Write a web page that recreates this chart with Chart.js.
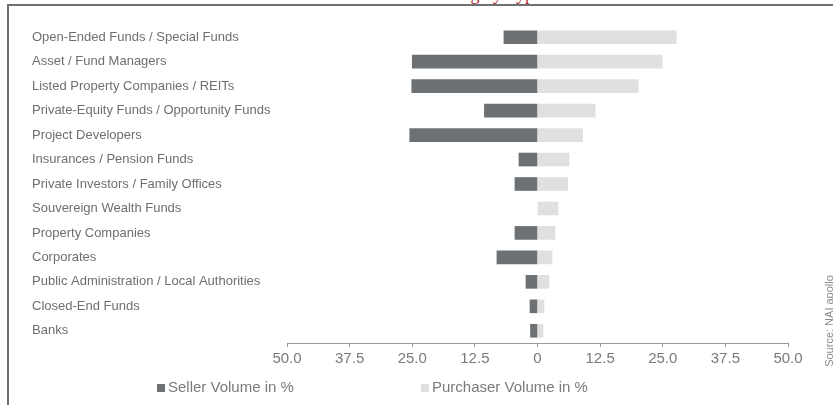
<!DOCTYPE html>
<html>
<head>
<meta charset="utf-8">
<script src="https://cdn.jsdelivr.net/npm/chart.js@4.4.1/dist/chart.umd.min.js"></script>
<style>
  html, body { margin: 0; padding: 0; background: #fff; }
  body { width: 833px; height: 405px; position: relative; overflow: hidden; font-family: 'Liberation Sans', Arial, sans-serif; }
  #chart-box { position: absolute; left: 0; top: 0; width: 833px; height: 405px; }
  #frame { position: absolute; left: 7px; top: 4px; right: 0; bottom: 0; border-top: 2px solid #6e7174; border-left: 2px solid #6e7174; }
  #title { position: absolute; left: 300px; width: 300px; top: -15px; text-align: center; font: 18px/18px 'Liberation Serif', serif; color: #b0282e; white-space: nowrap; }
  .legend-item { position: absolute; top: 378px; font-size: 15px; color: #7a7a7a; line-height: 18px; white-space: nowrap; }
  .legend-item i { display: inline-block; width: 8px; height: 8px; margin-right: 3px; vertical-align: 0px; }
  #source { position: absolute; left: 829px; top: 321px; transform: translate(-50%, -50%) rotate(-90deg); font-size: 11px; color: #8a8a8a; white-space: nowrap; }
</style>
</head>
<body>
<div id="title">Investors Selling by Type</div>
<div id="chart-box"><canvas id="volume-chart" width="833" height="405"></canvas></div>
<div id="frame"></div>
<div class="legend-item" style="left:157px"><i style="background:#6d7174"></i>Seller Volume in %</div>
<div class="legend-item" style="left:421px"><i style="background:#e0e0e0"></i>Purchaser Volume in %</div>
<div id="source">Source: NAI apollo</div>
<script>
// Investor groups, top to bottom
const investorGroups = [
    "Open-Ended Funds / Special Funds",
    "Asset / Fund Managers",
    "Listed Property Companies / REITs",
    "Private-Equity Funds / Opportunity Funds",
    "Project Developers",
    "Insurances / Pension Funds",
    "Private Investors / Family Offices",
    "Souvereign Wealth Funds",
    "Property Companies",
    "Corporates",
    "Public Administration / Local Authorities",
    "Closed-End Funds",
    "Banks",
];

// Share of volume in %; sellers are drawn to the left of zero
const sellerVolume = [6.7, 25.0, 25.1, 10.6, 25.5, 3.7, 4.5, 0, 4.5, 8.1, 2.3, 1.5, 1.4];
const purchaserVolume = [27.7, 24.9, 20.1, 11.5, 9.0, 6.3, 6.0, 4.1, 3.5, 2.9, 2.3, 1.3, 1.1];

const axisTicks = [-50, -37.5, -25, -12.5, 0, 12.5, 25, 37.5, 50];

Chart.defaults.font.family = "'Liberation Sans', Arial, sans-serif";
Chart.defaults.color = "#707070";

const ctx = document.getElementById("volume-chart").getContext("2d");
const volumeChart = new Chart(ctx, {
    type: "bar",
    data: {
        labels: investorGroups,
        datasets: [
            {
                label: "Seller Volume in %",
                // zero shares get no bar at all (avoids a hairline at 0)
                data: sellerVolume.map(v => (v === 0 ? null : -v)),
                backgroundColor: "#6d7174",
                barThickness: 13,
            },
            {
                label: "Purchaser Volume in %",
                data: purchaserVolume,
                backgroundColor: "#e0e0e0",
                barThickness: 13,
            },
        ],
    },
    options: {
        indexAxis: "y",
        responsive: false,
        animation: false,
        layout: { padding: { left: 32, right: 45, top: 25, bottom: 32 } },
        plugins: {
            legend: { display: false },
            tooltip: { enabled: false },
        },
        scales: {
            x: {
                stacked: true,
                min: -50,
                max: 50,
                afterBuildTicks: (scale) => {
                    scale.ticks = axisTicks.map(v => ({ value: v }));
                },
                afterFit: (scale) => { scale.height = 30; },
                ticks: {
                    font: { size: 15 },
                    color: "#7a7a7a",
                    padding: 3,
                    maxRotation: 0,
                    callback: (v) => (v === 0 ? "0" : Math.abs(v).toFixed(1)),
                },
                grid: { drawOnChartArea: false, drawTicks: true, tickLength: 4, color: "#9a9a9a" },
                border: { display: true, color: "#9a9a9a" },
            },
            y: {
                stacked: true,
                afterFit: (scale) => { scale.width = 255; },
                ticks: {
                    font: { size: 13 },
                    color: "#6f6f6f",
                    crossAlign: "far",
                    autoSkip: false,
                },
                grid: { display: false },
                border: { display: false },
            },
        },
    },
});
</script>
</body>
</html>
